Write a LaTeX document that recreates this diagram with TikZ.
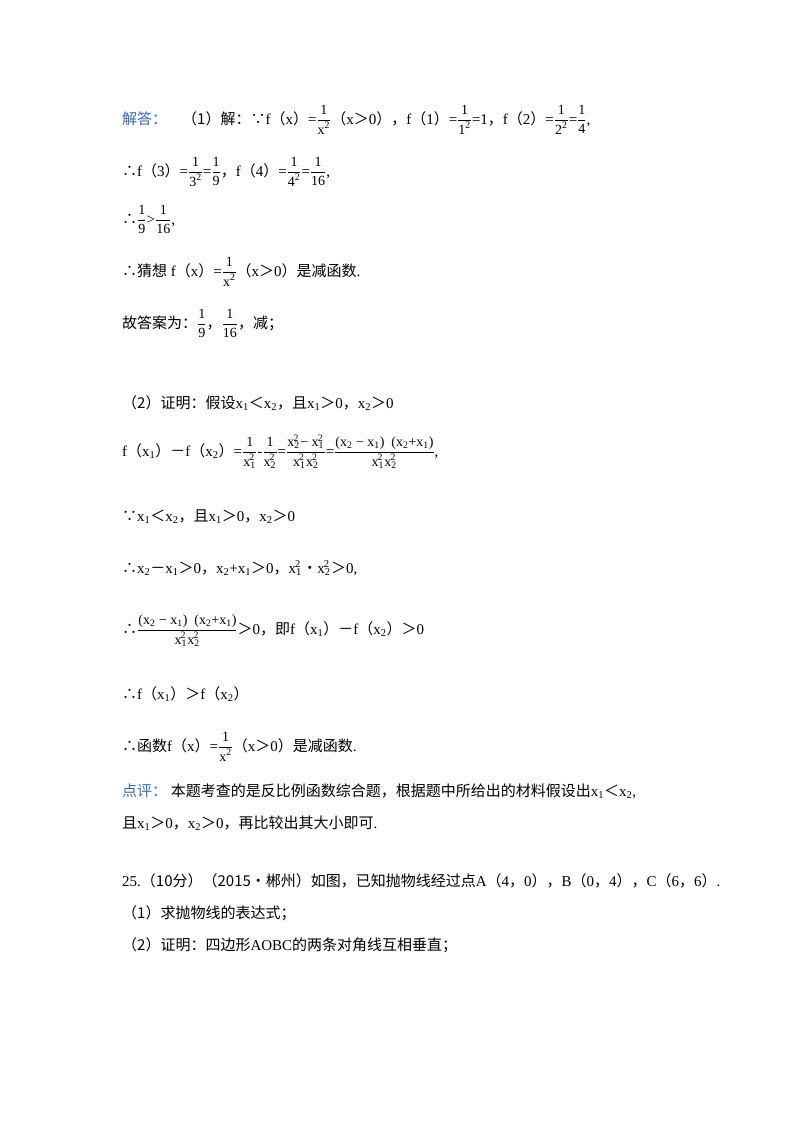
\documentclass[tikz,border=0pt]{standalone}
\usepackage{amsmath}
\usepackage{fontspec}
\setmainfont{Liberation Serif}
\newfontfamily\cjkf{Noto Sans CJK SC}
\newcommand{\zh}[1]{{\cjkf #1}}
\newcommand{\fr}[2]{$\dfrac{\text{\fontsize{14}{16}\selectfont #1}}{\text{\fontsize{14}{16}\selectfont #2}}$}
\newcommand{\sq}[1]{#1\textsuperscript{2}}
\newcommand{\xs}[1]{x\textsubscript{#1}}
\newcommand{\xq}[1]{x\textsubscript{#1}\kern-0.45em\textsuperscript{2}\kern0.1em}
\definecolor{lbl}{HTML}{3366CC}
\begin{document}
\begin{tikzpicture}[x=1pt,y=-1pt,every node/.style={anchor=base west,inner sep=0pt,font=\fontsize{15}{18}\selectfont}]
\useasboundingbox (0,0) rectangle (800,1132);
\node (l1) at (122,124) {\textcolor{lbl}{\zh{解答：}}\quad\zh{（1）解：∵}f\zh{（}x\zh{）}=\fr{1}{\sq{x}}\zh{（}x\zh{＞}0\zh{），}f\zh{（}1\zh{）}=\fr{1}{\sq{1}}=1\zh{，}f\zh{（}2\zh{）}=\fr{1}{\sq{2}}=\fr{1}{4},};
\node (l2) at (122,176) {\zh{∴}f\zh{（}3\zh{）}=\fr{1}{\sq{3}}=\fr{1}{9}\zh{，}f\zh{（}4\zh{）}=\fr{1}{\sq{4}}=\fr{1}{16},};
\node (l3) at (122,224) {\zh{∴}\fr{1}{9}>\fr{1}{16},};
\node (l4) at (122,276) {\zh{∴猜想} f\zh{（}x\zh{）}=\fr{1}{\sq{x}}\zh{（}x\zh{＞}0\zh{）是减函数}.};
\node (l5) at (122,328) {\zh{故答案为：}\fr{1}{9}\zh{，}\fr{1}{16}\zh{，减；}};
\node (l6) at (122,408) {\zh{（2）证明：假设}\xs1\zh{＜}\xs2\zh{，且}\xs1\zh{＞}0\zh{，}\xs2\zh{＞}0};
\node (l7) at (122,456) {f\zh{（}\xs1\zh{）－}f\zh{（}\xs2\zh{）}=\fr{1}{\xq1}-\fr{1}{\xq2}=\fr{\xq2 − \xq1}{\xq1\xq2}=\fr{(x\textsubscript{2} − x\textsubscript{1})\ \ (x\textsubscript{2}+x\textsubscript{1})}{\xq1\xq2},};
\node (l8) at (122,521) {\zh{∵}\xs1\zh{＜}\xs2\zh{，且}\xs1\zh{＞}0\zh{，}\xs2\zh{＞}0};
\node (l9) at (122,573) {\zh{∴}\xs2\zh{－}\xs1\zh{＞}0\zh{，}\xs2+\xs1\zh{＞}0\zh{，}\xq1\zh{•}\xq2\zh{＞}0,};
\node (l10) at (122,634) {\zh{∴}\fr{(x\textsubscript{2} − x\textsubscript{1})\ \ (x\textsubscript{2}+x\textsubscript{1})}{\xq1\xq2}\zh{＞}0\zh{，即}f\zh{（}\xs1\zh{）－}f\zh{（}\xs2\zh{）＞}0};
\node (l11) at (122,699) {\zh{∴}f\zh{（}\xs1\zh{）＞}f\zh{（}\xs2\zh{）}};
\node (l12) at (122,751) {\zh{∴函数}f\zh{（}x\zh{）}=\fr{1}{\sq{x}}\zh{（}x\zh{＞}0\zh{）是减函数}.};
\node (l13) at (122,796) {\textcolor{lbl}{\zh{点评：}}\ \zh{本题考查的是反比例函数综合题，根据题中所给出的材料假设出}\xs1\zh{＜}\xs2,};
\node (l14) at (122,828) {\zh{且}\xs1\zh{＞}0\zh{，}\xs2\zh{＞}0\zh{，再比较出其大小即可}.};
\node (l15) at (122,886) {25.\zh{（10分）（2015•郴州）如图，已知抛物线经过点}A\zh{（}4\zh{，}0\zh{），}B\zh{（}0\zh{，}4\zh{），}C\zh{（}6\zh{，}6\zh{）}.};
\node (l16) at (122,918) {\zh{（1）求抛物线的表达式；}};
\node (l17) at (122,950) {\zh{（2）证明：四边形}AOBC\zh{的两条对角线互相垂直；}};
\end{tikzpicture}
\end{document}
